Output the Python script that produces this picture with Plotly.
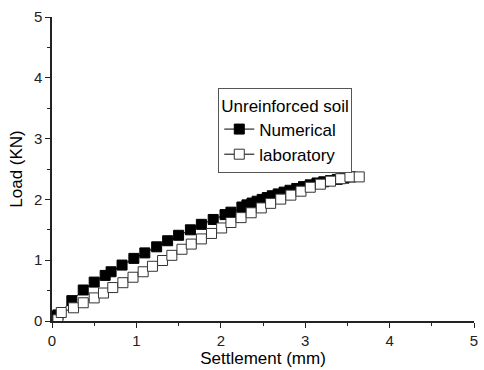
import plotly.graph_objects as go

num_x = [0.03, 0.07, 0.235, 0.37, 0.50, 0.63, 0.70, 0.83, 0.97, 1.10, 1.24, 1.37, 1.50, 1.64,
         1.77, 1.91, 2.05, 2.12, 2.25, 2.31, 2.37, 2.43, 2.49, 2.55, 2.61, 2.68, 2.75, 2.82,
         2.90, 2.98, 3.06, 3.14, 3.22, 3.30, 3.38, 3.46, 3.54]
num_y = [0.08, 0.10, 0.335, 0.51, 0.64, 0.75, 0.81, 0.92, 1.03, 1.12, 1.22, 1.32, 1.41, 1.50,
         1.59, 1.67, 1.75, 1.79, 1.875, 1.91, 1.94, 1.97, 2.00, 2.03, 2.06, 2.09, 2.12, 2.15,
         2.18, 2.21, 2.24, 2.27, 2.29, 2.31, 2.33, 2.35, 2.37]

lab_x = [0.07, 0.11, 0.255, 0.37, 0.50, 0.61, 0.72, 0.84, 0.96, 1.08, 1.19, 1.31, 1.42, 1.54,
         1.65, 1.77, 1.89, 2.01, 2.12, 2.24, 2.36, 2.48, 2.59, 2.71, 2.83, 2.95, 3.06, 3.18,
         3.30, 3.42, 3.53, 3.64]
lab_y = [0.02, 0.14, 0.217, 0.30, 0.38, 0.46, 0.55, 0.63, 0.72, 0.81, 0.90, 0.995, 1.08, 1.18,
         1.265, 1.35, 1.44, 1.53, 1.62, 1.70, 1.78, 1.86, 1.935, 2.005, 2.07, 2.135, 2.20, 2.25,
         2.30, 2.34, 2.37, 2.37]

x_ticks = [0, 1, 2, 3, 4, 5]
y_ticks = [0, 1, 2, 3, 4, 5]

FONT = "Liberation Sans"

fig = go.Figure()
fig.add_trace(go.Scatter(
    x=num_x, y=num_y, mode="lines+markers", name="Numerical",
    line=dict(color="black", width=1),
    marker=dict(symbol="square", size=10, color="black", line=dict(color="black", width=1)),
))
fig.add_trace(go.Scatter(
    x=lab_x, y=lab_y, mode="lines+markers", name="laboratory",
    line=dict(color="black", width=1),
    marker=dict(symbol="square", size=10, color="white", line=dict(color="#333333", width=1)),
))

axis_common = dict(
    showgrid=False, zeroline=False, showline=True, linecolor="#222222", linewidth=1.5,
    ticks="outside", ticklen=5, tickwidth=1.2, tickcolor="#222222",
    tickfont=dict(family=FONT, size=15, color="#222222"),
    minor=dict(ticks="outside", ticklen=3, dtick=0.5, tickcolor="#222222", tickwidth=1),
    mirror=False,
)

fig.update_layout(
    width=484, height=370,
    margin=dict(l=52, r=6, t=17, b=44),
    paper_bgcolor="white", plot_bgcolor="white",
    font=dict(family=FONT, size=17, color="black"),
    xaxis=dict(range=[0, 5], tickvals=x_ticks, title=dict(text="Settlement (mm)", standoff=3,
               font=dict(family=FONT, size=17)), **axis_common),
    yaxis=dict(range=[0, 5], tickvals=y_ticks, title=dict(text="Load (KN)", standoff=7,
               font=dict(family=FONT, size=17)), **axis_common),
    legend=dict(
        x=0.394, y=0.765, xanchor="left", yanchor="top",
        bordercolor="#555555", borderwidth=1, bgcolor="white",
        title=dict(text="Unreinforced soil", font=dict(family=FONT, size=17)),
        font=dict(family=FONT, size=17), tracegroupgap=0, itemwidth=30,
    ),
)

fig.write_html("out.html")
